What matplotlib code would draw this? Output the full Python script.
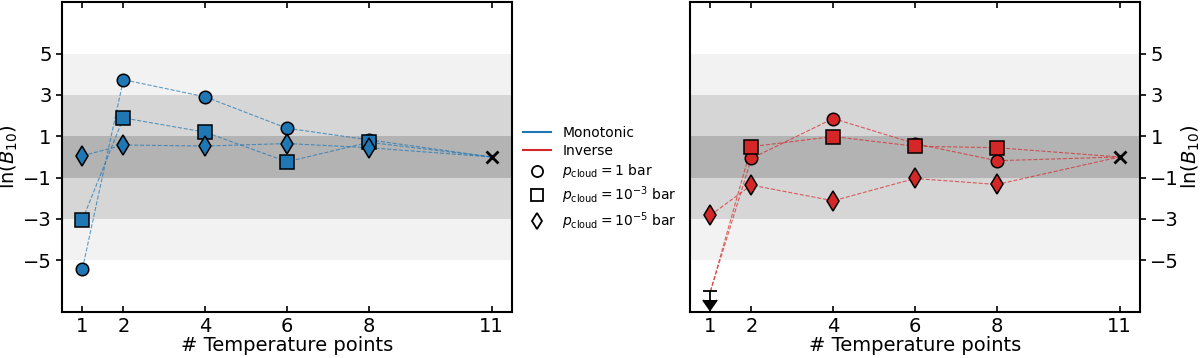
import numpy as np
import matplotlib
matplotlib.use("Agg")
import matplotlib.pyplot as plt
from matplotlib.lines import Line2D

# number of temperature points
n_temp = [1, 2, 4, 6, 8, 11]

# ln(B10) for the monotonic profile (last point is the reference, 0)
mono_p1 = [-5.4, 3.74, 2.91, 1.39, 0.83, 0.0]
mono_p3 = [-3.03, 1.89, 1.2, -0.23, 0.71, 0.0]
mono_p5 = [0.06, 0.58, 0.53, 0.65, 0.45, 0.0]

# ln(B10) for the inverse profile (first point is an upper limit)
inv_p1 = [-6.5, -0.07, 1.86, 0.65, -0.18, 0.0]
inv_p3 = [-6.5, 0.5, 0.99, 0.52, 0.45, 0.0]
inv_p5 = [-2.82, -1.36, -2.12, -1.04, -1.33, 0.0]
inv_limit = -6.5

yticks = [-5, -3, -1, 1, 3, 5]
markers = ['o', 's', 'd']
msizes = [9, 9.5, 10]
labels = [r'$p_\mathrm{cloud} = 1$ bar',
          r'$p_\mathrm{cloud} = 10^{-3}$ bar',
          r'$p_\mathrm{cloud} = 10^{-5}$ bar']


def shade(ax):
    ax.axhspan(-5, 5, color='#f2f2f2', lw=0, zorder=0)
    ax.axhspan(-3, 3, color='#d6d6d6', lw=0, zorder=0)
    ax.axhspan(-1, 1, color='#b3b3b3', lw=0, zorder=0)


def plot_panel(ax, series, color, skip_first=False):
    shade(ax)
    x = np.array(n_temp)
    for ys, m, ms in zip(series, markers, msizes):
        ys = np.array(ys)
        ax.plot(x, ys, ls='--', lw=0.8, color=color, alpha=0.7, zorder=2)
        sl = slice(1, -1) if skip_first else slice(0, -1)
        ax.plot(x[sl], ys[sl], ls='none', marker=m, ms=ms, mfc=color,
                mec='black', mew=1.1, zorder=3)
    ax.plot(x[-1], 0, ls='none', marker='x', ms=9, mew=2, color='black', zorder=4)
    ax.set_xlim(0.5, 11.5)
    ax.set_ylim(-7.5, 7.5)
    ax.set_xticks(n_temp)
    ax.set_yticks(yticks)
    ax.tick_params(axis='x', direction='in', top=True, labelsize=14, length=4, width=1.2)
    ax.tick_params(axis='y', labelsize=14, length=4, width=1.2)
    ax.set_xlabel('# Temperature points', fontsize=14, labelpad=0)
    ax.set_ylabel(r'ln$(B_{10})$', fontsize=14, labelpad=2)
    for sp in ax.spines.values():
        sp.set_linewidth(1.5)


fig = plt.figure(figsize=(12, 3.58), dpi=100)
ax1 = fig.add_axes([0.0517, 0.1285, 0.375, 0.866])
ax2 = fig.add_axes([0.575, 0.1285, 0.375, 0.866])

plot_panel(ax1, [mono_p1, mono_p3, mono_p5], '#1f77b4')
plot_panel(ax2, [inv_p1, inv_p3, inv_p5], '#d62728', skip_first=True)
# diamond at 1 is a real point on the inverse panel
ax2.plot(n_temp[0], inv_p5[0], ls='none', marker='d', ms=10, mfc='#d62728',
         mec='black', mew=1.1, zorder=3)
# upper limit for the other two inverse runs
eb = ax2.errorbar(n_temp[0], inv_limit, yerr=0.4, uplims=True, color='black',
                  capsize=5, lw=1.3, capthick=1.3, zorder=4)
for cap in eb[1]:
    if cap.get_marker() not in ('_', 0, 1):
        cap.set_markersize(10)
ax2.yaxis.tick_right()
ax2.yaxis.set_label_position('right')
ax2.yaxis.labelpad = 0

handles = [Line2D([], [], color='#1f77b4', lw=1.5),
           Line2D([], [], color='#d62728', lw=1.5)]
handles += [Line2D([], [], ls='none', marker=m, ms=8, mfc='none', mec='black', mew=1.3)
            for m in markers]
fig.legend(handles, ['Monotonic', 'Inverse'] + labels, loc='center',
           bbox_to_anchor=(0.5, 0.5), frameon=False, fontsize=10,
           labelspacing=0.3)

fig.savefig('out.png', dpi=100)
